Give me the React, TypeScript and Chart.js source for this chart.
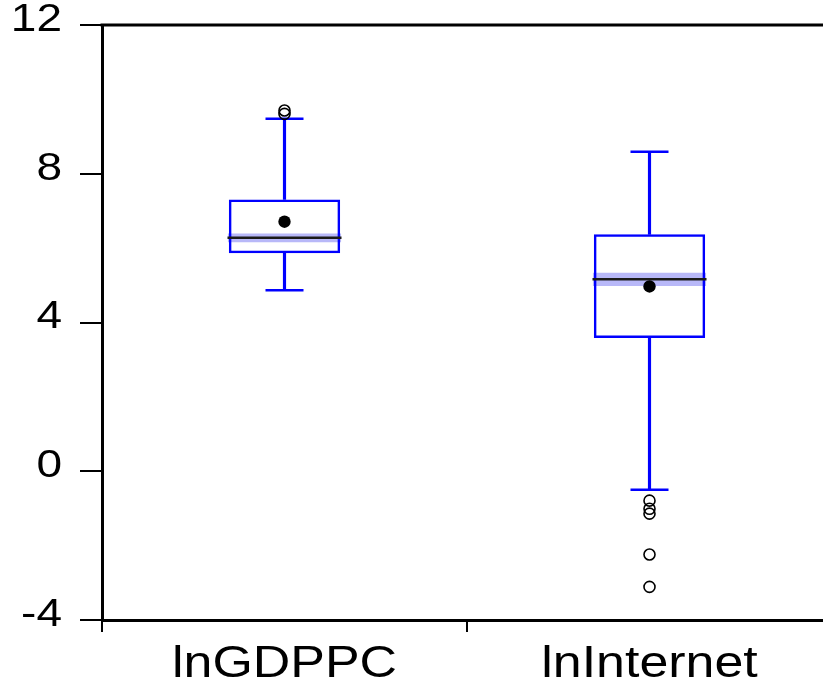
import React, { useEffect, useRef } from 'react';
import { Chart, registerables } from 'chart.js';
Chart.register(...registerables);

const categories = ['lnGDPPC', 'lnInternet'];
const q1 = [5.86, 3.58];
const q3 = [7.31, 6.37];
const medians = [6.28, 5.16];
const medianLow = [6.16, 4.98];
const medianHigh = [6.39, 5.34];
const means = [6.71, 4.97];
const whiskerLow = [4.87, -0.5];
const whiskerHigh = [9.48, 8.59];
const outliersGDPPC = [9.7, 9.61];
const outliersInternet = [-0.79, -1.01, -1.14, -2.24, -3.11];
const yTicks = [-4, 0, 4, 8, 12];

const BLUE = '#0000ff';
const FONT = "'Liberation Sans', Arial, Helvetica, sans-serif";
const STRETCH = 1.18;

const framePlugin = {
  id: 'frameTop',
  afterDraw(chart: any) {
    const { ctx, chartArea } = chart;
    ctx.save();
    ctx.strokeStyle = '#000';
    ctx.lineWidth = 3;
    ctx.beginPath();
    ctx.moveTo(chartArea.left - 1.5, chartArea.top);
    ctx.lineTo(chartArea.right, chartArea.top);
    ctx.stroke();
    ctx.restore();
  },
};

// Tick labels drawn with a slight horizontal stretch (the reference text is widened)
const labelPlugin = {
  id: 'stretchedLabels',
  afterDraw(chart: any) {
    const { ctx } = chart;
    const xs = chart.scales.x;
    const ys = chart.scales.y;
    ctx.save();
    ctx.fillStyle = '#000';
    ctx.textBaseline = 'middle';
    ctx.font = `39px ${FONT}`;
    ctx.textAlign = 'right';
    const yRight = ys.right - 22 - 18;
    ys.ticks.forEach((t: any, i: number) => {
      const y = ys.getPixelForTick(i) - 5;
      ctx.save();
      ctx.translate(yRight, y);
      ctx.scale(STRETCH, 1);
      ctx.fillText(String(t.value), 0, 0);
      ctx.restore();
    });
    ctx.font = `44px ${FONT}`;
    ctx.textAlign = 'center';
    xs.ticks.forEach((t: any, i: number) => {
      const x = xs.getPixelForTick(i);
      ctx.save();
      ctx.translate(x, xs.top + 45);
      ctx.scale(STRETCH, 1);
      ctx.fillText(String(chart.data.labels[i]), 0, 0);
      ctx.restore();
    });
    ctx.restore();
  },
};

export default function App() {
  const ref = useRef<HTMLCanvasElement>(null);
  useEffect(() => {
    const canvas = ref.current!;
    const outlierData = [
      ...outliersGDPPC.map((y) => ({ x: categories[0], y })),
      ...outliersInternet.map((y) => ({ x: categories[1], y })),
    ];
    const chart = new Chart(canvas, {
      type: 'bar',
      data: {
        labels: categories,
        datasets: [
          {
            type: 'line',
            label: 'outliers',
            data: outlierData as any,
            showLine: false,
            pointStyle: 'circle',
            pointRadius: 5.5,
            pointBorderWidth: 1.6,
            pointBorderColor: '#000',
            pointBackgroundColor: 'rgba(0,0,0,0)',
          } as any,
          {
            type: 'line',
            label: 'mean',
            data: means,
            showLine: false,
            pointStyle: 'circle',
            pointRadius: 6.2,
            pointBorderWidth: 0,
            pointBackgroundColor: '#000',
            pointBorderColor: '#000',
          } as any,
          {
            type: 'line',
            label: 'median',
            data: medians,
            showLine: false,
            pointStyle: 'line',
            pointRadius: 57,
            pointBorderWidth: 2.5,
            pointBorderColor: '#1a1a1a',
          } as any,
          {
            type: 'line',
            label: 'capHigh',
            data: whiskerHigh,
            showLine: false,
            pointStyle: 'line',
            pointRadius: 19,
            pointBorderWidth: 2.5,
            pointBorderColor: BLUE,
          } as any,
          {
            type: 'line',
            label: 'capLow',
            data: whiskerLow,
            showLine: false,
            pointStyle: 'line',
            pointRadius: 19,
            pointBorderWidth: 2.5,
            pointBorderColor: BLUE,
          } as any,
          {
            label: 'box',
            data: q1.map((v, i) => [v, q3[i]]),
            backgroundColor: 'rgba(0,0,0,0)',
            borderColor: BLUE,
            borderWidth: 2.5,
            borderSkipped: false,
            grouped: false,
            categoryPercentage: 1,
            barPercentage: 0.305,
          } as any,
          {
            label: 'band',
            data: medianLow.map((v, i) => [v, medianHigh[i]]),
            backgroundColor: '#b8b8f8',
            borderWidth: 0,
            grouped: false,
            categoryPercentage: 1,
            barPercentage: 0.31,
          } as any,
          {
            label: 'whiskerUp',
            data: q3.map((v, i) => [v, whiskerHigh[i]]),
            backgroundColor: BLUE,
            borderWidth: 0,
            grouped: false,
            barThickness: 2.5,
          } as any,
          {
            label: 'whiskerDown',
            data: whiskerLow.map((v, i) => [v, q1[i]]),
            backgroundColor: BLUE,
            borderWidth: 0,
            grouped: false,
            barThickness: 2.5,
          } as any,
        ],
      },
      options: {
        responsive: false,
        animation: false,
        clip: false as any,
        layout: { autoPadding: false, padding: { top: 25, right: 18, left: 0, bottom: 0 } },
        plugins: { legend: { display: false }, tooltip: { enabled: false } },
        scales: {
          x: {
            type: 'category',
            offset: true,
            grid: {
              offset: true,
              drawOnChartArea: false,
              color: '#000',
              lineWidth: 2,
              tickLength: 12,
            },
            border: { display: true, color: '#000', width: 3 },
            ticks: { display: false },
            afterFit(scale: any) {
              scale.height = 67;
              scale.paddingLeft = 0;
              scale.paddingRight = 0;
            },
          },
          y: {
            type: 'linear',
            min: -4,
            max: 12,
            grid: {
              drawOnChartArea: false,
              color: '#000',
              lineWidth: 2,
              tickLength: 22,
            },
            border: { display: true, color: '#000', width: 3 },
            ticks: { display: false },
            afterBuildTicks(scale: any) {
              scale.ticks = yTicks.map((v) => ({ value: v }));
            },
            afterFit(scale: any) {
              scale.width = 102;
              scale.paddingTop = 0;
              scale.paddingBottom = 0;
            },
          },
        },
      } as any,
      plugins: [framePlugin, labelPlugin],
    });
    return () => chart.destroy();
  }, []);
  return (
    <div
      style={{
        position: 'fixed',
        left: 0,
        top: 0,
        width: 823,
        height: 687,
        overflow: 'hidden',
        background: '#fff',
      }}
    >
      <canvas ref={ref} width={850} height={687} style={{ display: 'block', width: 850, height: 687 }} />
    </div>
  );
}
